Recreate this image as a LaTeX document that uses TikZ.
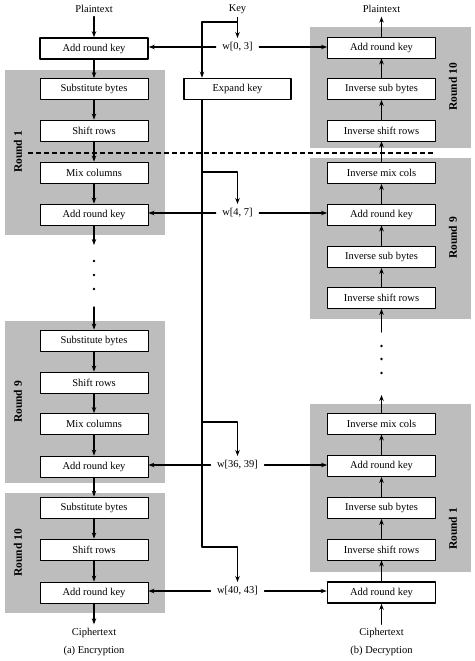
\documentclass[tikz,border=0pt]{standalone}
\usepackage{fontspec}
\setmainfont{Liberation Serif}
\usetikzlibrary{arrows.meta}
\definecolor{roundgray}{gray}{0.74}
\tikzset{
	stepbox/.style={draw,fill=white,line width=.8pt,minimum width=108pt,minimum height=21pt,inner sep=0pt},
	keybox/.style={stepbox,line width=1.6pt},
	roundbg/.style={fill=roundgray},
	wlabel/.style={inner xsep=6pt,inner ysep=4pt},
	roundlabel/.style={rotate=90,font=\fontsize{11.5}{13}\selectfont\bfseries}
}
\begin{document}
\begin{tikzpicture}[>={Stealth[length=6pt,width=4.5pt]},line join=round,line cap=round,line width=1.2pt,font=\fontsize{10.5}{12}\selectfont,x=1pt,y=-1pt]
	\useasboundingbox (0,0) rectangle (474,661);
	\foreach \xa/\ya/\xb/\yb in {5/70/165/235,5/321/165/483,5/493/165/613,310/27/471/148,310/158/471/319,310/404/471/572}{
		\fill[roundbg] (\xa,\ya) rectangle (\xb,\yb);
	}
	\node[roundlabel] (lr1) at (18,152) {Round 1};
	\node[roundlabel] (lr9) at (18,402) {Round 9};
	\node[roundlabel] (lr10) at (18,553) {Round 10};
	\node[roundlabel] (rr10) at (453,87) {Round 10};
	\node[roundlabel] (rr9) at (453,238) {Round 9};
	\node[roundlabel] (rr1) at (453,529) {Round 1};
	\draw[line cap=butt,line width=1.3pt,dash pattern=on 5pt off 3pt] (28,153)--(435,153);
	\node (ptl) at (94,9) {Plaintext};
	\node[keybox] (ark0) at (94,48.5) {Add round key};
	\foreach \n/\y/\t in {sb1/89/Substitute bytes,sr1/130.5/Shift rows,mc1/172.5/Mix columns,ark1/214.5/Add round key,sb9/340.5/Substitute bytes,sr9/382.5/Shift rows,mc9/424/Mix columns,ark9/466.5/Add round key,sb10/507.5/Substitute bytes,sr10/549.5/Shift rows,ark10/592.5/Add round key}{
		\node[stepbox] (\n) at (94,\y) {\t};
	}
	\node (ctl) at (94,633) {Ciphertext};
	\node (capa) at (94,651) {(a) Encryption};
	\node (ptr) at (381.5,9) {Plaintext};
	\foreach \n/\y/\t in {rark10/47.5/Add round key,risb10/89/Inverse sub bytes,risr10/130.5/Inverse shift rows,rimc9/173/Inverse mix cols,rark9/214.5/Add round key,risb9/257/Inverse sub bytes,risr9/298/Inverse shift rows,rimc1/423.5/Inverse mix cols,rark1/466/Add round key,risb1/508/Inverse sub bytes,risr1/549.5/Inverse shift rows}{
		\node[stepbox] (\n) at (381.5,\y) {\t};
	}
	\node[keybox] (rark0) at (381.5,592.5) {Add round key};
	\node (ctr) at (381.5,633) {Ciphertext};
	\node (capb) at (381.5,651) {(b) Decryption};
	\node (key) at (237.5,9) {Key};
	\node[keybox,minimum width=107pt] (expand) at (237.5,89) {Expand key};
	\foreach \n/\y/\t in {w03/47/{w[0, 3]},w47/213/{w[4, 7]},w3639/465/{w[36, 39]},w4043/591/{w[40, 43]}}{
		\node[wlabel] (\n) at (237.5,\y) {\t};
	}
	\coordinate (ktap) at (237.5,22);
	\coordinate (bus) at (202,22);
	\coordinate (b1) at (202,172);
	\coordinate (b2) at (202,422);
	\coordinate (b3) at (202,547);
	\draw[->] (key)--(w03);
	\draw[->] (ktap)--(bus)--(bus|-expand.north);
	\draw (bus|-expand.south)--(b3);
	\foreach \b/\w in {b1/w47,b2/w3639,b3/w4043}{
		\draw[->] (\b)-|(\w.north);
	}
	\foreach \w/\l/\r in {w03/ark0/rark10,w47/ark1/rark9,w3639/ark9/rark1,w4043/ark10/rark0}{
		\draw[->] (\w.west)--(\w.west-|\l.east);
		\draw[->] (\w.east)--(\w.east-|\r.west);
	}
	\draw[->] (ptl)--(ark0);
	\foreach \a/\b in {ark0/sb1,sb1/sr1,sr1/mc1,mc1/ark1,sb9/sr9,sr9/mc9,mc9/ark9,ark9/sb10,sb10/sr10,sr10/ark10,ark10/ctl}{
		\draw[->] (\a)--(\b);
	}
	\coordinate (ldots1) at (94,245);
	\coordinate (ldots2) at (94,307);
	\draw[->] (ark1)--(ldots1);
	\draw[->] (ldots2)--(sb9);
	\foreach \y in {261,275,289}{
		\fill (94,\y) circle (1.4pt);
	}
	\foreach \a/\b in {ctr/rark0,rark0/risr1,risr1/risb1,risb1/rark1,rark1/rimc1,risr9/risb9,risb9/rark9,rark9/rimc9,rimc9/risr10,risr10/risb10,risb10/rark10,rark10/ptr}{
		\draw[->] (\a)--(\b);
	}
	\coordinate (rdots1) at (381.5,395);
	\coordinate (rdots2) at (381.5,332);
	\draw[->] (rimc1)--(rdots1);
	\draw[->] (rdots2)--(risr9);
	\foreach \y in {346,359,373}{
		\fill (381.5,\y) circle (1.4pt);
	}
\end{tikzpicture}
\end{document}
